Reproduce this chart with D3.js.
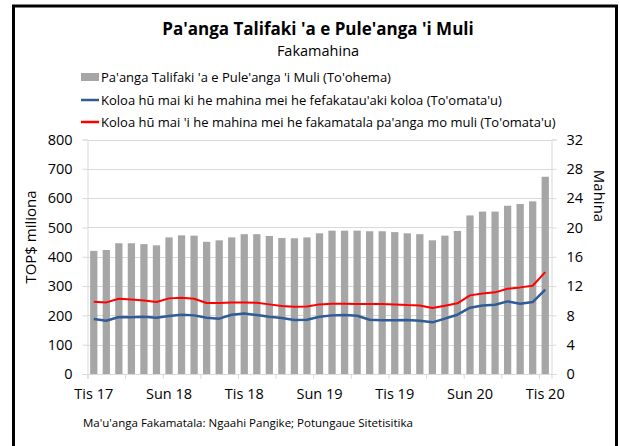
<!DOCTYPE html>
<html>
<head>
<meta charset="utf-8">
<script src="https://cdn.jsdelivr.net/npm/d3@7"></script>
<style>
  body { margin: 0; background: #fff; }
  svg { display: block; font-family: "Open Sans", sans-serif; }
</style>
</head>
<body>
<div id="chart-area"></div>
<script>
const months = [
  "Tis 17",
  "Sān 18", "Fēp 18", "Maʻa 18", "ʻEp 18", "Mē 18", "Sun 18", "Siu 18", "ʻAok 18", "Sep 18", "ʻOka 18", "Nōv 18", "Tis 18",
  "Sān 19", "Fēp 19", "Maʻa 19", "ʻEp 19", "Mē 19", "Sun 19", "Siu 19", "ʻAok 19", "Sep 19", "ʻOka 19", "Nōv 19", "Tis 19",
  "Sān 20", "Fēp 20", "Maʻa 20", "ʻEp 20", "Mē 20", "Sun 20", "Siu 20", "ʻAok 20", "Sep 20", "ʻOka 20", "Nōv 20", "Tis 20"
];

// Pa'anga Talifaki (TOP$ miliona) - left axis
const reserves = [
  420, 423, 446, 446, 443, 439, 466, 473, 472, 451, 456, 466,
  477, 477, 471, 464, 463, 466, 480, 489, 489, 489, 487, 487,
  484, 480, 477, 456, 472, 488, 541, 554, 554, 574, 580, 589, 673
];

// mahina, koloa hu mai (fefakatau'aki koloa) - right axis
const coverTrade = [
  7.50, 7.27, 7.77, 7.73, 7.82, 7.68, 7.91, 8.09, 8.00, 7.68, 7.55, 8.09,
  8.27, 8.05, 7.82, 7.64, 7.36, 7.41, 7.82, 8.00, 8.05, 7.95, 7.41, 7.32,
  7.32, 7.36, 7.27, 7.05, 7.55, 8.09, 9.05, 9.36, 9.45, 9.91, 9.59, 9.82, 11.5
];

// mahina, koloa hu mai (fakamatala pa'anga mo muli) - right axis
const coverBop = [
  9.86, 9.77, 10.27, 10.18, 10.04, 9.82, 10.32, 10.41, 10.27, 9.68, 9.68, 9.77,
  9.77, 9.73, 9.50, 9.27, 9.18, 9.20, 9.50, 9.59, 9.59, 9.55, 9.55, 9.55,
  9.50, 9.41, 9.36, 9.00, 9.32, 9.64, 10.73, 11.00, 11.14, 11.64, 11.82, 12.05, 13.90
];

const leftTicks = [0, 100, 200, 300, 400, 500, 600, 700, 800];
const rightTicks = [0, 4, 8, 12, 16, 20, 24, 28, 32];
const xLabels = ["Tis 17", "Sun 18", "Tis 18", "Sun 19", "Tis 19", "Sun 20", "Tis 20"];

const legendNames = [
  "Pa'anga Talifaki 'a e Pule'anga 'i Muli (To'ohema)",
  "Koloa hū mai ki he mahina mei he fefakatau'aki koloa (To'omata'u)",
  "Koloa hū mai 'i he mahina mei he fakamatala pa'anga mo muli (To'omata'u)"
];

const canvasWidth = 620;
const canvasHeight = 446;
const plot = { left: 87.5, right: 551.5, top: 139.5, bottom: 374 };

const barColor = "#a6a6a6";
const blue = "#2f5b98";
const red = "#ff0000";
const gridColor = "#d9d9d9";

const svg = d3.select("#chart-area").append("svg")
  .attr("width", canvasWidth).attr("height", canvasHeight);

// frame
svg.append("rect")
  .attr("x", 13.5).attr("y", 6)
  .attr("width", 603).attr("height", 470)
  .attr("fill", "#fff").attr("stroke", "#000").attr("stroke-width", 3);

// titles
svg.append("text")
  .attr("x", 318).attr("y", 35)
  .attr("text-anchor", "middle")
  .attr("font-size", "17px").attr("font-weight", "bold")
  .text("Pa'anga Talifaki 'a e Pule'anga 'i Muli");

svg.append("text")
  .attr("x", 318).attr("y", 56)
  .attr("text-anchor", "middle")
  .attr("font-size", "14.5px")
  .text("Fakamahina");

// scales
const x = d3.scaleBand().domain(months).range([plot.left, plot.right])
  .paddingInner(0.42).paddingOuter(0.21);
const xIndex = d3.scaleLinear().domain([0, months.length]).range([plot.left, plot.right]);
const yLeft = d3.scaleLinear().domain([0, 800]).range([plot.bottom, plot.top]);
const yRight = d3.scaleLinear().domain([0, 32]).range([plot.bottom, plot.top]);

// gridlines
svg.append("g").selectAll("line").data(leftTicks.slice(1)).join("line")
  .attr("x1", plot.left).attr("x2", plot.right)
  .attr("y1", d => Math.round(yLeft(d)) + 0.5).attr("y2", d => Math.round(yLeft(d)) + 0.5)
  .attr("stroke", gridColor);

// left axis
const leftAxis = svg.append("g")
  .attr("transform", `translate(${plot.left},0)`)
  .call(d3.axisLeft(yLeft).tickValues(leftTicks).tickSize(5).tickPadding(10));
// right axis
const rightAxis = svg.append("g")
  .attr("transform", `translate(${plot.right},0)`)
  .call(d3.axisRight(yRight).tickValues(rightTicks).tickSize(5).tickPadding(10));

[leftAxis, rightAxis].forEach(a => {
  a.select(".domain").attr("stroke", gridColor);
  a.selectAll(".tick line").attr("stroke", gridColor);
  a.selectAll("text").attr("font-size", "14.5px").attr("font-family", "Open Sans").attr("fill", "#000");
});

// bars
svg.append("g").selectAll("rect").data(reserves).join("rect")
  .attr("x", (d, i) => x(months[i]))
  .attr("width", x.bandwidth())
  .attr("y", d => yLeft(d))
  .attr("height", d => plot.bottom - yLeft(d))
  .attr("fill", barColor);

// x axis: tick marks every 3 months, labels every 6
const xTicks = svg.append("g")
  .attr("transform", `translate(0,${plot.bottom})`)
  .call(d3.axisBottom(xIndex).tickValues(d3.range(0, months.length, 3)).tickSize(5).tickFormat(""));
xTicks.select(".domain").attr("stroke", gridColor);
xTicks.selectAll(".tick line").attr("stroke", gridColor);

const xAxis = svg.append("g")
  .attr("transform", `translate(0,${plot.bottom})`)
  .call(d3.axisBottom(x).tickValues(xLabels).tickSize(0).tickPadding(15));
xAxis.select(".domain").remove();
xAxis.selectAll("text").attr("font-size", "14.5px").attr("font-family", "Open Sans").attr("fill", "#000");

// lines
const lineGen = d3.line()
  .x((d, i) => x(months[i]) + x.bandwidth() / 2)
  .y(d => yRight(d));

svg.append("path").datum(coverBop)
  .attr("d", lineGen).attr("fill", "none")
  .attr("stroke", red).attr("stroke-width", 2).attr("stroke-linejoin", "round");

svg.append("path").datum(coverTrade)
  .attr("d", lineGen).attr("fill", "none")
  .attr("stroke", blue).attr("stroke-width", 2.5).attr("stroke-linejoin", "round");

// axis titles
svg.append("text")
  .attr("transform", `translate(36,237) rotate(-90)`)
  .attr("text-anchor", "middle")
  .attr("font-size", "15px")
  .text("TOP$ miliona");

svg.append("text")
  .attr("transform", `translate(594,196) rotate(90)`)
  .attr("text-anchor", "middle")
  .attr("font-size", "15px")
  .text("Mahina");

// legend
const legend = svg.append("g").attr("transform", "translate(81,0)");
const legendRows = [
  { name: legendNames[0], type: "bar", color: barColor, y: 77 },
  { name: legendNames[1], type: "line", color: blue, y: 100 },
  { name: legendNames[2], type: "line", color: red, y: 122 }
];
legendRows.forEach(r => {
  const row = legend.append("g").attr("transform", `translate(0,${r.y})`);
  if (r.type === "bar") {
    row.append("rect").attr("x", 0).attr("y", -4).attr("width", 18).attr("height", 8).attr("fill", r.color);
  } else {
    row.append("line").attr("x1", 0).attr("x2", 18).attr("y1", 0).attr("y2", 0)
      .attr("stroke", r.color).attr("stroke-width", 2.5);
  }
  row.append("text").attr("x", 20).attr("y", 4.5)
    .attr("font-size", "13px")
    .text(r.name);
});

// source
svg.append("text")
  .attr("x", 83).attr("y", 427)
  .attr("font-size", "11.5px")
  .text("Ma'u'anga Fakamatala: Ngaahi Pangike; Potungaue Sitetisitika");
</script>
</body>
</html>
